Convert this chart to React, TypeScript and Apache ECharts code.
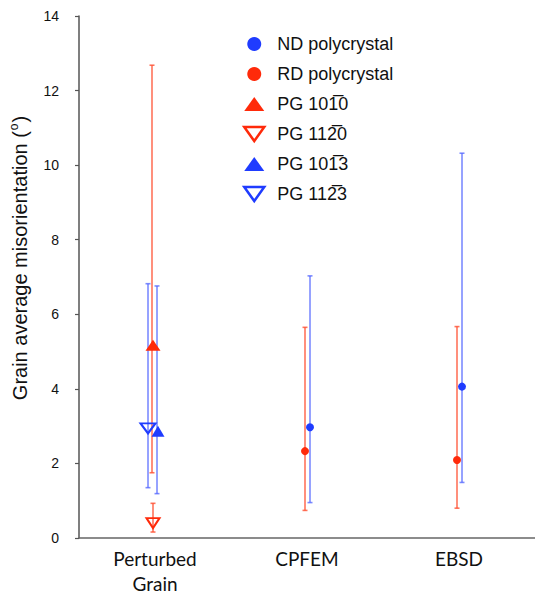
import React, { useEffect, useRef } from 'react';
import * as echarts from 'echarts';

const categories = ['Perturbed\nGrain', 'CPFEM', 'EBSD'];

const ndMean = [null, 2.97, 4.06];
const ndLow = [null, 0.95, 1.49];
const ndHigh = [null, 7.03, 10.32];

const rdMean = [null, 2.33, 2.09];
const rdLow = [null, 0.74, 0.8];
const rdHigh = [null, 5.65, 5.67];

const pg1010Mean = [5.17, null, null];
const pg1010Low = [1.75, null, null];
const pg1010High = [12.68, null, null];

const pg1120Mean = [0.4, null, null];
const pg1120Low = [0.16, null, null];
const pg1120High = [0.93, null, null];

const pg1013Mean = [2.86, null, null];
const pg1013Low = [1.19, null, null];
const pg1013High = [6.76, null, null];

const pg1123Mean = [2.94, null, null];
const pg1123Low = [1.35, null, null];
const pg1123High = [6.82, null, null];

const RED = '#ff2a0a';
const BLUE = '#1f3cff';
const RED_BAR = 'rgba(255,80,50,0.8)';
const BLUE_BAR = 'rgba(80,100,255,0.75)';
const DOWN = 'path://M0,0L20,0L10,14Z';

type Spec = {
  name: string;
  mean: (number | null)[];
  low: (number | null)[];
  high: (number | null)[];
  color: string;
  bar: string;
  symbol: string;
  size: number | number[];
  hollow: boolean;
  dx: number;
  dxMarker: number;
};

const specs: Spec[] = [
  { name: 'ND polycrystal', mean: ndMean, low: ndLow, high: ndHigh, color: BLUE, bar: BLUE_BAR, symbol: 'circle', size: 8, hollow: false, dx: 3, dxMarker: 3 },
  { name: 'RD polycrystal', mean: rdMean, low: rdLow, high: rdHigh, color: RED, bar: RED_BAR, symbol: 'circle', size: 8, hollow: false, dx: -2, dxMarker: -2 },
  { name: 'PG 101\u03050', mean: pg1010Mean, low: pg1010Low, high: pg1010High, color: RED, bar: RED_BAR, symbol: 'triangle', size: [15, 11], hollow: false, dx: -3, dxMarker: -2 },
  { name: 'PG 112\u03050', mean: pg1120Mean, low: pg1120Low, high: pg1120High, color: RED, bar: RED_BAR, symbol: DOWN, size: [13, 10], hollow: true, dx: -2, dxMarker: -2 },
  { name: 'PG 101\u03053', mean: pg1013Mean, low: pg1013Low, high: pg1013High, color: BLUE, bar: BLUE_BAR, symbol: 'triangle', size: [13, 11], hollow: false, dx: 2, dxMarker: 3 },
  { name: 'PG 112\u03053', mean: pg1123Mean, low: pg1123Low, high: pg1123High, color: BLUE, bar: BLUE_BAR, symbol: DOWN, size: [15, 10], hollow: true, dx: -7, dxMarker: -7 },
];

function buildOption() {
  const series: any[] = [];
  specs.forEach((s) => {
    const errData: any[] = [];
    const ptData: any[] = [];
    s.mean.forEach((m, i) => {
      if (m !== null && s.low[i] !== null && s.high[i] !== null) {
        errData.push([i, s.low[i], s.high[i]]);
        ptData.push([i, m]);
      }
    });
    const dx = s.dx;
    const stroke = s.bar;
    series.push({
      type: 'custom',
      name: 'err ' + s.name,
      data: errData,
      encode: { x: 0, y: [1, 2] },
      z: 2,
      silent: true,
      renderItem: (params: any, api: any) => {
        const xi = api.value(0);
        const pLo = api.coord([xi, api.value(1)]);
        const pHi = api.coord([xi, api.value(2)]);
        const cx = pLo[0] + dx;
        const cap = 2.5;
        const st = { stroke, lineWidth: 1.6 };
        return {
          type: 'group',
          children: [
            { type: 'line', shape: { x1: cx, y1: pHi[1], x2: cx, y2: pLo[1] }, style: st },
            { type: 'line', shape: { x1: cx - cap, y1: pHi[1], x2: cx + cap, y2: pHi[1] }, style: st },
            { type: 'line', shape: { x1: cx - cap, y1: pLo[1], x2: cx + cap, y2: pLo[1] }, style: st },
          ],
        };
      },
    });
    series.push({
      type: 'scatter',
      name: s.name,
      data: ptData,
      symbol: s.symbol,
      symbolSize: s.size,
      symbolOffset: [s.dxMarker, 0],
      z: 5,
      itemStyle: s.hollow
        ? { color: 'rgba(255,255,255,0)', borderColor: s.color, borderWidth: 2, opacity: 1 }
        : { color: s.color, opacity: 1 },
    });
  });

  return {
    animation: false,
    backgroundColor: '#ffffff',
    grid: { left: 78, right: -8, top: 16, bottom: 52 },
    legend: {
      orient: 'vertical',
      left: 238,
      top: 29,
      itemWidth: 20,
      itemHeight: 14,
      itemGap: 10,
      selectedMode: false,
      textStyle: {
        fontFamily: 'Liberation Sans, Arial, sans-serif',
        fontSize: 18,
        color: '#111',
        lineHeight: 20,
        padding: [0, 0, 0, 8],
      },
      data: specs.map((s) => ({
        name: s.name,
        icon: s.symbol,
        itemStyle: s.hollow
          ? { color: 'rgba(255,255,255,0)', borderColor: s.color, borderWidth: 2.5, opacity: 1 }
          : { color: s.color, borderWidth: 0, opacity: 1 },
      })),
    },
    xAxis: {
      type: 'category',
      data: categories,
      boundaryGap: true,
      axisLine: { show: true, lineStyle: { color: '#666', width: 1.5 } },
      axisTick: { show: false },
      splitLine: { show: false },
      axisLabel: {
        fontFamily: 'Lato, Open Sans, sans-serif',
        fontSize: 19,
        color: '#111',
        lineHeight: 25,
        margin: 8,
      },
    },
    yAxis: {
      type: 'value',
      min: 0,
      max: 14,
      interval: 2,
      name: '{p| }{a|Grain average misorientation (}{s|o}{a|)}',
      nameLocation: 'middle',
      nameGap: 47,
      nameTextStyle: {
        rich: {
          p: { width: 38, fontSize: 20, lineHeight: 24 },
          a: { fontFamily: 'Liberation Sans, Arial, sans-serif', fontSize: 20, color: '#111', lineHeight: 24 },
          s: { fontFamily: 'Liberation Sans, Arial, sans-serif', fontSize: 12, color: '#111', lineHeight: 24, verticalAlign: 'top', padding: [0, 1, 8, 1] },
        },
      },
      axisLine: { show: true, lineStyle: { color: '#555', width: 1.5 } },
      axisTick: { show: true, length: 4, lineStyle: { color: '#555', width: 1.2 } },
      splitLine: { show: false },
      axisLabel: {
        fontFamily: 'Liberation Sans, Arial, sans-serif',
        fontSize: 14,
        color: '#111',
        margin: 20,
      },
    },
    series,
  };
}

export default function App() {
  const ref = useRef<HTMLDivElement>(null);
  useEffect(() => {
    if (!ref.current) return;
    const chart = echarts.init(ref.current, undefined, { renderer: 'svg' });
    chart.setOption(buildOption() as any);
    return () => chart.dispose();
  }, []);
  return (
    <div
      ref={ref}
      style={{ position: 'fixed', left: 0, top: 0, width: 535, height: 596, background: '#fff' }}
    />
  );
}
